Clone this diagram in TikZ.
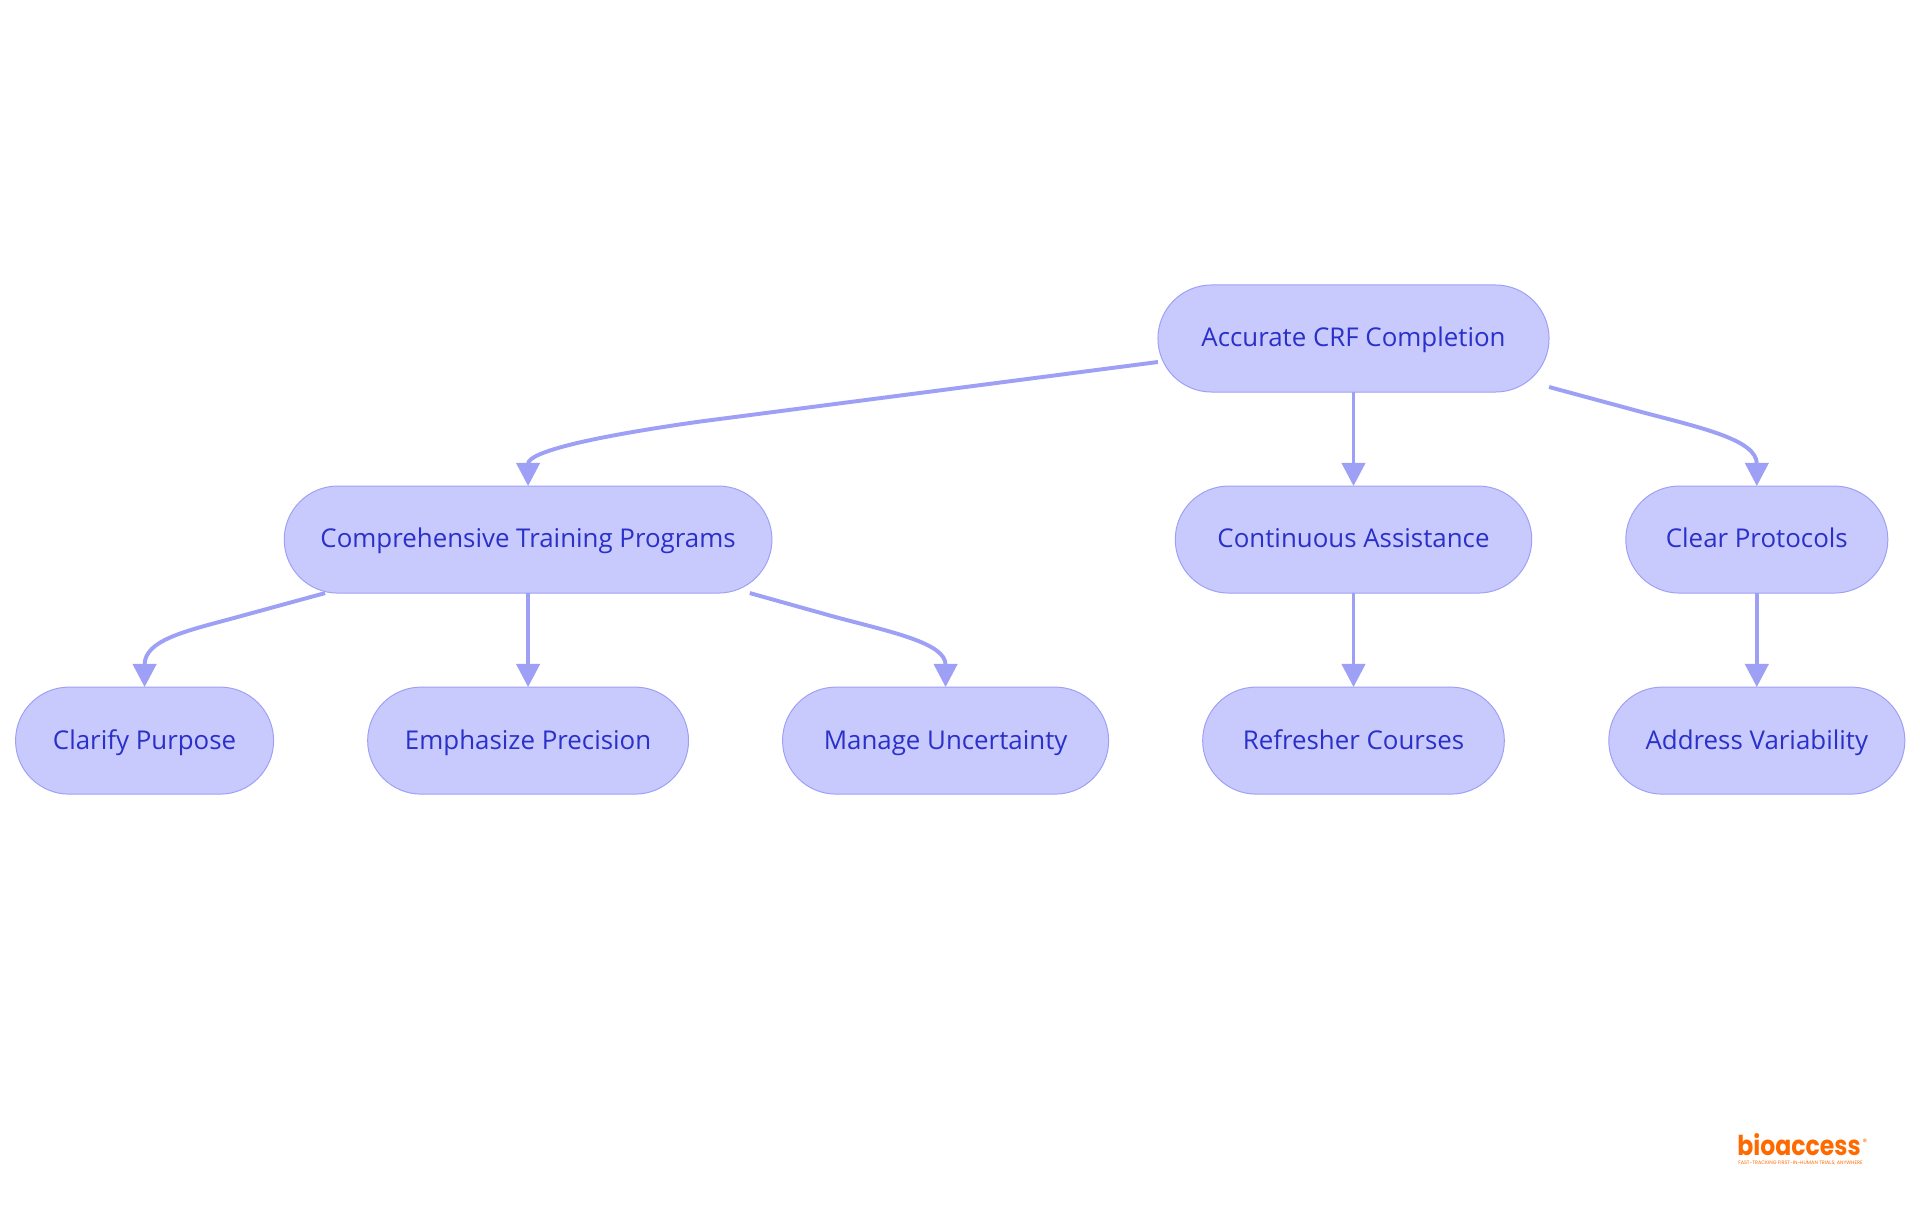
\documentclass[tikz,border=0pt]{standalone}
\usepackage{fontspec}
\setmainfont{Open Sans}
\newfontfamily\logofont[FakeStretch=0.86]{Poppins}
\newfontfamily\tagfont{Poppins}
\usetikzlibrary{arrows.meta, positioning, shapes.misc, calc}

\definecolor{nodefill}{HTML}{C8CAFE}
\definecolor{nodeline}{HTML}{9EA0F5}
\definecolor{nodetext}{HTML}{2A30C8}
\definecolor{logoorange}{HTML}{FF6A00}

\begin{document}
\begin{tikzpicture}[
    x=0.025cm, y=-0.025cm,
    pill/.style={rounded rectangle, draw=nodeline, fill=nodefill, line width=0.7pt, text=nodetext, outer sep=0pt, inner sep=0pt,
        minimum height=2.675cm, text height=16pt, text depth=4pt, font=\fontsize{18.4}{22}\selectfont},
    dep/.style={draw=nodeline, line width=2.8pt, -{Triangle[length=0.58cm, width=0.58cm]}},
    logotext/.style={text=logoorange, inner sep=0pt, text depth=0pt}
]
\useasboundingbox (0,0) rectangle (1920,1215);

% Root and the second row
\node[pill, minimum width=9.775cm] (root) at (1353.5,338.5) {Accurate CRF Completion};
\node[pill, minimum width=8.91cm] (assist) [below=2.35cm of root] {Continuous Assistance};
\node[pill, minimum width=6.55cm] (protocols) [right=2.35cm of assist] {Clear Protocols};

% Bottom row
\node[pill, minimum width=7.54cm] (refresher) [below=2.35cm of assist] {Refresher Courses};
\node[pill, minimum width=7.4cm] (variability) [below=2.35cm of protocols] {Address Variability};
\node[pill, minimum width=8.15cm] (uncertainty) [left=2.35cm of refresher] {Manage Uncertainty};
\node[pill, minimum width=8.02cm] (precision) [left=2.35cm of uncertainty] {Emphasize Precision};
\node[pill, minimum width=6.45cm] (purpose) [left=2.35cm of precision] {Clarify Purpose};

% Training sits over its children
\node[pill, minimum width=12.19cm] (training) [above=2.35cm of precision] {Comprehensive Training Programs};

% Dependencies
\draw[dep] (root.south) -- (assist.north);
\draw[dep] (assist.south) -- (refresher.north);
\draw[dep] (protocols.south) -- (variability.north);
\draw[dep] (training.south) -- (precision.north);

\draw[dep] ($(root.west)+(0,23.5)$) -- ($(training.north)+(172,-64.5)$) .. controls ($(training.north)+(62,-49)$) and ($(training.north)+(0,-34)$) .. (training.north);
\draw[dep] ($(root.east)+(0,48.5)$) -- ($(protocols.north)+(-117,-74.5)$) .. controls ($(protocols.north)+(-57,-58.5)$) and ($(protocols.north)+(0,-46.5)$) .. (protocols.north);
\draw[dep] ($(training.south)+(-203,0)$) -- ($(purpose.north)+(89,-69)$) .. controls ($(purpose.north)+(41,-56)$) and ($(purpose.north)+(0,-47)$) .. (purpose.north);
\draw[dep] ($(training.south)+(221.7,0)$) -- ($(uncertainty.north)+(-110,-70)$) .. controls ($(uncertainty.north)+(-54,-55)$) and ($(uncertainty.north)+(0,-44)$) .. (uncertainty.north);

% Logo
\node[logotext, font=\logofont\bfseries\fontsize{19.5}{20}\selectfont, anchor=base west] (logo) at (1737,1155) {bioaccess};
\node[logotext, font=\tagfont\fontsize{6.5}{7}\selectfont] (mark) at (1865,1142) {®};
\node[logotext, font=\tagfont\fontsize{3.5}{4}\selectfont, anchor=base west] (tagline) at (1738,1164) {FAST-TRACKING FIRST-IN-HUMAN TRIALS, ANYWHERE};

\end{tikzpicture}
\end{document}
